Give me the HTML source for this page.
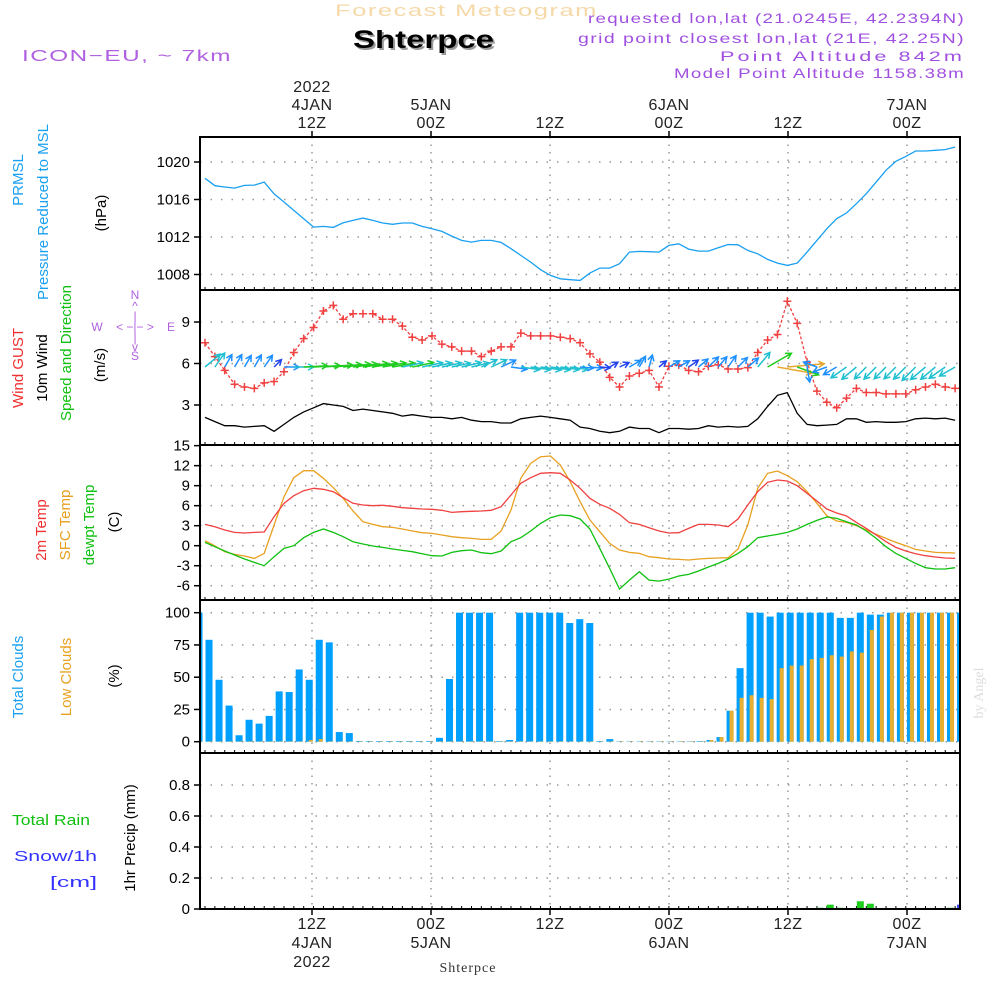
<!DOCTYPE html>
<html><head><meta charset="utf-8"><style>
html,body{margin:0;padding:0;background:#fff;width:1000px;height:1000px;overflow:hidden}
svg{display:block;font-family:"Liberation Sans",sans-serif}
</style></head><body>
<svg id="chart" width="1000" height="1000" viewBox="0 0 1000 1000" xmlns="http://www.w3.org/2000/svg">
<g>
<text x="335" y="16" font-size="17" fill="#f5d9a8" textLength="263" lengthAdjust="spacingAndGlyphs" letter-spacing="1">Forecast Meteogram</text>
<text x="355" y="50" font-size="25" font-weight="bold" fill="#999" textLength="141" lengthAdjust="spacingAndGlyphs">Shterpce</text>
<text x="353" y="48" font-size="25" font-weight="bold" fill="#000" textLength="141" lengthAdjust="spacingAndGlyphs">Shterpce</text>
<text x="22" y="61" font-size="16" fill="#b060e0" textLength="210" lengthAdjust="spacingAndGlyphs" letter-spacing="1">ICON−EU, ~ 7km</text>
<text x="588" y="23" font-size="14" fill="#a050e0" textLength="377" lengthAdjust="spacingAndGlyphs" letter-spacing="1">requested lon,lat (21.0245E, 42.2394N)</text>
<text x="578" y="43" font-size="14" fill="#a050e0" textLength="387" lengthAdjust="spacingAndGlyphs" letter-spacing="1">grid point closest lon,lat (21E, 42.25N)</text>
<text x="720" y="61" font-size="14" fill="#a050e0" textLength="245" lengthAdjust="spacingAndGlyphs" letter-spacing="2">Point Altitude 842m</text>
<text x="674" y="78" font-size="14" fill="#a050e0" textLength="291" lengthAdjust="spacingAndGlyphs" letter-spacing="1">Model Point Altitude 1158.38m</text>
</g>
<g id="axislabels" font-size="15">
<text transform="translate(23,180) rotate(-90)" text-anchor="middle" fill="#1aa0f0">PRMSL</text>
<text transform="translate(48,212) rotate(-90)" text-anchor="middle" fill="#1aa0f0">Pressure Reduced to MSL</text>
<text transform="translate(106,213) rotate(-90)" text-anchor="middle" fill="#000">(hPa)</text>
<text transform="translate(23,368) rotate(-90)" text-anchor="middle" fill="#f03030">Wind GUST</text>
<text transform="translate(47,368) rotate(-90)" text-anchor="middle" fill="#000">10m Wind</text>
<text transform="translate(71,353) rotate(-90)" text-anchor="middle" fill="#10c010">Speed and Direction</text>
<text transform="translate(105,365) rotate(-90)" text-anchor="middle" fill="#000">(m/s)</text>
<g font-size="12" fill="#b060e0" text-anchor="middle">
<text x="135" y="299">N</text><text x="135" y="310">^</text><text x="135" y="320">|</text>
<text x="97" y="331">W</text><text x="135" y="331">&lt; −|− &gt;</text><text x="171" y="331">E</text>
<text x="135" y="342">|</text><text x="135" y="351">v</text><text x="135" y="360">S</text>
</g>
<text transform="translate(46,530) rotate(-90)" text-anchor="middle" fill="#f03030">2m Temp</text>
<text transform="translate(70,525) rotate(-90)" text-anchor="middle" fill="#e8a020">SFC Temp</text>
<text transform="translate(94,525) rotate(-90)" text-anchor="middle" fill="#10c010">dewpt Temp</text>
<text transform="translate(119,522) rotate(-90)" text-anchor="middle" fill="#000">(C)</text>
<text transform="translate(23,677) rotate(-90)" text-anchor="middle" fill="#1aa0f0">Total Clouds</text>
<text transform="translate(71,677) rotate(-90)" text-anchor="middle" fill="#e8a020">Low Clouds</text>
<text transform="translate(119,676) rotate(-90)" text-anchor="middle" fill="#000">(%)</text>
<text x="12" y="825" fill="#10c010" textLength="78" lengthAdjust="spacingAndGlyphs">Total  Rain</text>
<text x="14" y="861" fill="#3333ff" textLength="83" lengthAdjust="spacingAndGlyphs">Snow/1h</text>
<text x="50" y="887" fill="#3333ff" textLength="47" lengthAdjust="spacingAndGlyphs">[cm]</text>
<text transform="translate(135,838) rotate(-90)" text-anchor="middle" fill="#000">1hr Precip (mm)</text>
<text transform="translate(983,693) rotate(-90)" text-anchor="middle" fill="#ddd" font-family="Liberation Serif, serif" font-size="14">by Angel</text>
<text x="468" y="972" text-anchor="middle" fill="#333" font-family="Liberation Serif, serif" font-size="14" letter-spacing="1">Shterpce</text>
</g>
<g id="plot"></g>
</svg>
<script>
const pressure=[1018.26,1017.47,1017.33,1017.22,1017.5,1017.54,1017.86,1016.6,1015.73,1014.84,1013.95,1013.06,1013.13,1013.02,1013.52,1013.77,1014.02,1013.77,1013.49,1013.35,1013.49,1013.49,1013.13,1012.88,1012.6,1012.1,1011.64,1011.46,1011.64,1011.64,1011.42,1010.75,1010.04,1009.32,1008.51,1007.9,1007.54,1007.44,1007.37,1008.15,1008.68,1008.68,1009.15,1010.39,1010.46,1010.43,1010.39,1011.1,1011.28,1010.71,1010.5,1010.5,1010.85,1011.2,1011.17,1010.57,1010.21,1009.61,1009.22,1008.97,1009.22,1010.39,1011.64,1012.88,1013.95,1014.56,1015.55,1016.62,1017.86,1019.11,1020.07,1020.6,1021.17,1021.17,1021.25,1021.32,1021.6];
const gust=[7.5,6.5,5.5,4.5,4.3,4.2,4.6,4.7,5.4,6.8,7.8,8.6,9.8,10.2,9.2,9.6,9.6,9.6,9.2,9.2,8.7,7.9,7.7,8.0,7.4,7.2,6.9,6.9,6.5,6.9,7.2,7.2,8.2,8.0,8.0,8.0,7.9,7.8,7.5,6.7,6.1,5.0,4.3,5.1,5.3,5.5,4.3,5.8,5.9,5.5,5.4,5.8,5.9,5.6,5.6,5.7,6.8,7.7,8.1,10.5,8.9,6.1,4.0,3.2,2.8,3.5,4.2,3.9,3.9,3.8,3.8,3.8,4.1,4.3,4.5,4.3,4.2];
const windSpeed=[2.1,1.8,1.5,1.5,1.4,1.45,1.5,1.1,1.6,2.1,2.5,2.8,3.1,3.0,2.9,2.6,2.7,2.6,2.5,2.4,2.2,2.3,2.2,2.1,2.1,2.0,2.1,1.9,1.8,1.8,1.7,1.7,2.0,2.1,2.2,2.1,2.0,1.9,1.4,1.3,1.1,1.0,1.1,1.4,1.3,1.3,1.0,1.3,1.3,1.25,1.3,1.5,1.4,1.45,1.4,1.45,2.0,2.9,3.7,3.9,2.4,1.6,1.5,1.55,1.6,2.0,2.0,1.75,1.8,1.75,1.75,1.8,2.0,2.05,2.0,2.05,1.9];
const windToward=[40,55,60,60,60,60,55,45,0,0,3,3,4,5,6,7,8,9,10,10,12,12,12,12,12,12,13,13,25,25,25,-8,-8,-8,-8,-8,-8,-8,-5,-5,-5,30,25,30,60,75,40,30,30,35,40,45,50,55,45,40,50,30,-10,5,-20,-80,160,200,210,215,220,225,225,225,225,225,225,220,220,215,210];
const temp2m=[3.2,2.85,2.35,2.0,1.9,2.0,2.05,4.35,6.35,7.5,8.25,8.6,8.45,8.1,7.2,6.35,6.1,6.0,6.05,5.9,5.7,5.6,5.5,5.45,5.3,5.0,5.1,5.15,5.2,5.3,5.85,7.6,9.35,10.2,10.85,10.95,10.85,9.85,8.6,7.1,6.2,5.6,4.7,3.45,3.2,2.7,2.2,1.9,1.95,2.6,3.2,3.2,3.1,2.85,4.0,6.1,8.1,9.5,9.85,9.7,9.0,7.85,6.7,5.5,4.9,4.45,3.5,2.6,1.6,0.6,-0.25,-0.8,-1.2,-1.5,-1.7,-1.85,-1.9];
const tempSfc=[0.75,-0.05,-0.9,-1.3,-1.55,-1.9,-1.15,3.1,7.35,10.2,11.25,11.25,10.1,8.7,7.1,5.2,3.6,3.2,2.85,2.75,2.5,2.2,1.95,1.85,1.6,1.35,1.2,1.1,0.95,0.95,2.2,5.35,10.1,12.35,13.35,13.45,12.1,9.6,6.6,3.85,2.1,0.35,-0.65,-1.0,-1.15,-1.65,-1.8,-2.0,-2.05,-2.15,-2.0,-1.9,-1.85,-1.8,-0.5,3.1,8.6,10.85,11.2,10.5,9.6,8.1,6.35,4.5,3.7,3.5,3.0,2.35,1.7,1.1,0.5,0,-0.55,-0.8,-1.0,-1.05,-1.1];
const dewpt=[0.5,-0.15,-0.8,-1.4,-2.0,-2.5,-3.0,-1.65,-0.4,0,1.2,2.0,2.5,2.0,1.35,0.6,0.25,-0.05,-0.25,-0.5,-0.7,-0.9,-1.2,-1.5,-1.55,-1.0,-0.75,-0.65,-1.05,-1.2,-0.8,0.6,1.2,2.2,3.35,4.2,4.6,4.5,4.0,2.5,-0.4,-3.4,-6.5,-5.15,-3.9,-5.15,-5.3,-5.0,-4.55,-4.3,-3.8,-3.2,-2.65,-2.0,-1.15,-0.15,1.2,1.45,1.7,2.0,2.5,3.2,3.8,4.3,4.1,3.6,3.1,2.2,1.1,-0.15,-1.15,-1.9,-2.65,-3.3,-3.5,-3.5,-3.3];
const totalClouds=[100,79,48,28,5,17,14,20,39,38.5,56,48,79,77,7.5,6.7,0.5,0.5,0.5,0.5,0.5,0.5,0.5,0.5,3,48.6,100,100,100,100,0.5,1.3,100,100,100,100,100,92,95,92,0.5,2,0.3,0.3,0.3,0.3,0.3,0.3,0.3,0.3,0.5,1.3,3.6,24,57,100,100,97,100,100,100,100,100,100,96,96,100,98.5,98.5,100,100,100,100,100,100,100,100];
const lowClouds=[0.3,0.3,0.3,0.3,0.3,0.3,0.3,0.3,0.3,0.3,0.3,1.3,2,0.3,0.3,0.3,0.3,0.3,0.3,0.3,0.3,0.3,0.3,0.3,0.3,0.3,0.3,0.3,0.3,0.3,0.3,0.3,0.3,0.3,0.3,0.3,0.3,0.3,0.3,0.3,0.3,0.3,0.3,0.3,0.3,0.3,0.3,0.3,0.3,0.3,0.3,1.3,3.6,24,34,36,34,33,57,59,59,64,65,67,66,70,69,86.6,97,100,100,100,100,100,100,100,100];
const rain=[0,0,0,0,0,0,0,0,0,0,0,0,0,0,0,0,0,0,0,0,0,0,0,0,0,0,0,0,0,0,0,0,0,0,0,0,0,0,0,0,0,0,0,0,0,0,0,0,0,0,0,0,0,0,0,0,0,0,0,0,0,0,0.008,0.028,0.008,0,0.05,0.034,0,0,0,0,0,0,0,0.008,0];
const snow=[0,0,0,0,0,0,0,0,0,0,0,0,0,0,0,0,0,0,0,0,0,0,0,0,0,0,0,0,0,0,0,0,0,0,0,0,0,0,0,0,0,0,0,0,0,0,0,0,0,0,0,0,0,0,0,0,0,0,0,0,0,0,0,0,0,0,0,0,0,0,0,0,0,0,0,0,0.028];
const pressureTicks=[1008,1012,1016,1020];
const windTicks=[3,6,9];
const tempTicks=[-6,-3,0,3,6,9,12,15];
const cloudTicks=[0,25,50,75,100];
const precipTicks=[0,0.2,0.4,0.6,0.8];
const timeTopTicks=[["2022","4JAN","12Z"],["","5JAN","00Z"],["","","12Z"],["","6JAN","00Z"],["","","12Z"],["","7JAN","00Z"]];
const timeBottomTicks=[["12Z","4JAN","2022"],["00Z","5JAN",""],["12Z","",""],["00Z","6JAN",""],["12Z","",""],["00Z","7JAN",""]];

const NS='http://www.w3.org/2000/svg';
const plot=document.getElementById('plot');
function mk(tag,attrs,parent){const e=document.createElementNS(NS,tag);for(const k in attrs)e.setAttribute(k,attrs[k]);(parent||plot).appendChild(e);return e;}
const X0=200,X1=960;
const xLine=i=>205+i*9.87;
const xBar=j=>199+j*10.02;
const xTick=k=>312+k*119;
const panels=[
 {name:'pressure',top:137,bot:290,y:v=>162+(1020-v)*9.375,ticks:pressureTicks,fmt:v=>v},
 {name:'wind',top:290,bot:445,y:v=>405-(v-3)*13.83,ticks:windTicks,fmt:v=>v},
 {name:'temperature',top:445,bot:600,y:v=>545.7-v*6.67,ticks:tempTicks,fmt:v=>v},
 {name:'clouds',top:600,bot:753,y:v=>741.7-v*1.29,ticks:cloudTicks,fmt:v=>v},
 {name:'precip',top:753,bot:909,y:v=>909-v*155,ticks:precipTicks,fmt:v=>v===0?'0':v.toFixed(1)}
];
const clip=mk('clipPath',{id:'pc'});mk('rect',{x:X0,y:137,width:X1-X0,height:772},clip);
panels.forEach(p=>{
 const g=mk('g',{});
 
 
 for(let k=0;k<6;k++){const l=mk('line',{x1:xTick(k),x2:xTick(k),y1:p.top,y2:p.bot,stroke:'#999','stroke-width':1.5,'stroke-dasharray':'1.5,6'},g);
  }
 p.ticks.forEach(t=>{const y=p.y(t);
  if(y>p.top+3&&y<p.bot-3){const l=mk('line',{x1:X0,x2:X1,y1:y,y2:y,stroke:'#999','stroke-width':1.5,'stroke-dasharray':'1.5,9'},g);
   }
  mk('line',{x1:X0-6,x2:X0,y1:y,y2:y,stroke:'#000','stroke-width':1.5},g);
  const tx=mk('text',{x:190,y:y+5,'text-anchor':'end','font-size':15,fill:'#000'},g);tx.textContent=p.fmt(t);
  
 });
 for(let i=0;i<77;i++){mk('line',{x1:xLine(i),x2:xLine(i),y1:p.bot,y2:p.bot-3,stroke:'#000','stroke-width':1},g);}
 p.g=g;
});
function poly(arr,yf,color,name,extra){const pts=arr.map((v,i)=>xLine(i).toFixed(1)+','+yf(v).toFixed(1)).join(' ');
 const e=mk('polyline',Object.assign({points:pts,fill:'none',stroke:color,'stroke-width':1.3,'clip-path':'url(#pc)'},extra||{}));
 return e;}
poly(pressure,panels[0].y,'#1aa0f0','pressure-line');
const wy=panels[1].y;
poly(windSpeed,wy,'#000','wind-speed-line');
poly(gust,wy,'#f04040','gust-line',{'stroke-dasharray':'3,2'});
gust.forEach((v,i)=>{const x=xLine(i),y=wy(v);
 const m=mk('path',{d:`M${x-4},${y}H${x+4}M${x},${y-4}V${y+4}`,stroke:'#f04040','stroke-width':1.5});
 });
function wcol(s){return s<1.3?'#2244ee':s<1.75?'#1e90ff':s<2.3?'#20c0d0':s<3.3?'#20cc20':'#e8a830';}
windToward.forEach((a,i)=>{const s=windSpeed[i],L=9.5*s,r=a*Math.PI/180;
 const x0=xLine(i),y0=367,x1=x0+L*Math.cos(r),y1=y0-L*Math.sin(r);
 const h1=r+Math.PI-0.5,h2=r+Math.PI+0.5;
 const d=`M${x0},${y0}L${x1},${y1}M${x1+6.5*Math.cos(h1)},${y1-6.5*Math.sin(h1)}L${x1},${y1}L${x1+6.5*Math.cos(h2)},${y1-6.5*Math.sin(h2)}`;
 const e=mk('path',{d:d,fill:'none',stroke:wcol(s),'stroke-width':1.5,'clip-path':'url(#pc)'});
 });
const ty=panels[2].y;
poly(tempSfc,ty,'#e8a020','sfc-temp-line');
poly(temp2m,ty,'#f04040','temp-2m-line');
poly(dewpt,ty,'#10c010','dewpoint-line');
const cy=panels[3].y;
totalClouds.forEach((v,j)=>{const x=xBar(j),y=cy(v);
 const b=mk('rect',{x:x-3.5,y:y,width:7,height:cy(0)-y,fill:'#00a0ff','clip-path':'url(#pc)'});
 });
lowClouds.forEach((v,j)=>{const x=xBar(j),y=cy(v);
 const b=mk('rect',{x:x-0.5,y:y,width:4,height:cy(0)-y,fill:'#e8b030','clip-path':'url(#pc)'});
 });
const py=panels[4].y;
rain.forEach((v,j)=>{if(v<=0)return;const x=xBar(j),y=py(v);
 const b=mk('rect',{x:x-3.5,y:y,width:7,height:py(0)-y,fill:'#20cc20','clip-path':'url(#pc)'});
 });
snow.forEach((v,j)=>{if(v<=0)return;const x=xBar(j),y=py(v);
 const b=mk('rect',{x:x-3.5,y:y,width:7,height:py(0)-y,fill:'#3344ff','clip-path':'url(#pc)'});
 });
panels.forEach(p=>{const r=mk('rect',{x:X0,y:p.top,width:X1-X0,height:p.bot-p.top,fill:'none',stroke:'#000','stroke-width':2});
 });
timeTopTicks.forEach((t,k)=>{const x=xTick(k);
 t.forEach((s,r)=>{if(!s)return;const e=mk('text',{x:x,y:92+r*18,'text-anchor':'middle','font-size':16,fill:'#222','letter-spacing':'0.5'});e.textContent=s;
  });
 mk('line',{x1:x,x2:x,y1:131,y2:137,stroke:'#000','stroke-width':1.5});});
timeBottomTicks.forEach((t,k)=>{const x=xTick(k);
 t.forEach((s,r)=>{if(!s)return;const e=mk('text',{x:x,y:929+r*19,'text-anchor':'middle','font-size':16,fill:'#222','letter-spacing':'0.5'});e.textContent=s;
  });
 mk('line',{x1:x,x2:x,y1:909,y2:915,stroke:'#000','stroke-width':1.5});});
</script>
</body></html>
